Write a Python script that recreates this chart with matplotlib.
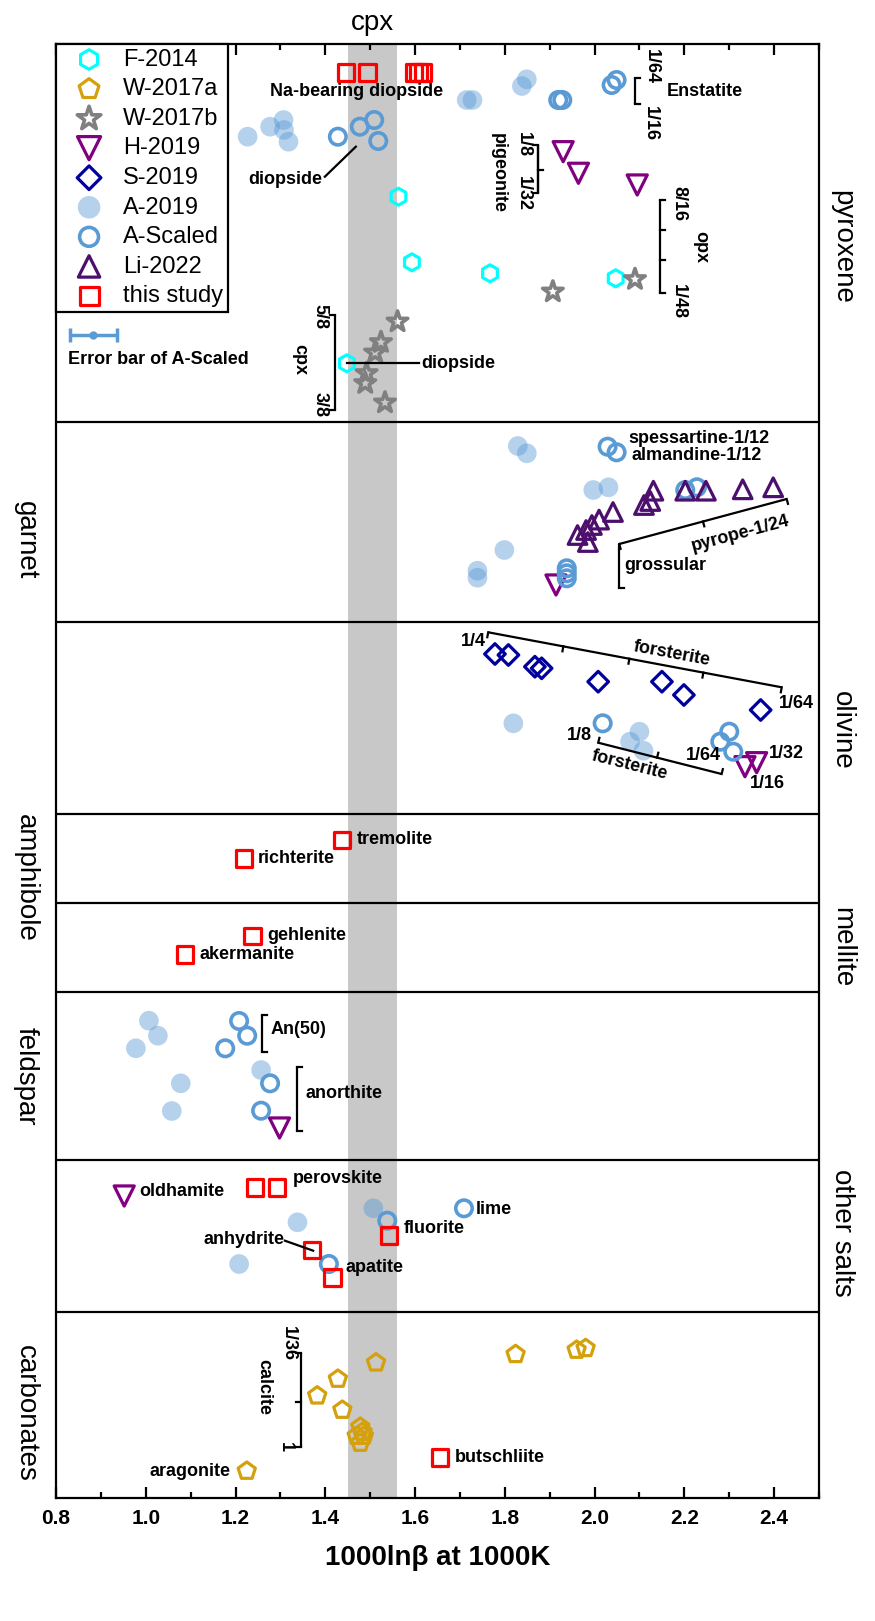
import matplotlib
matplotlib.use('Agg')
import matplotlib.pyplot as plt
import numpy as np
from matplotlib.ticker import MultipleLocator

plt.rcParams['font.family'] = ['Liberation Sans', 'DejaVu Sans']

# ---------------- data (x = 1000lnβ at 1000K, y = vertical slot, increasing downward) -------------
F2014_x = [1.563, 1.593, 1.767, 2.047, 1.448]
F2014_y = [152.7, 218.3, 229.3, 234.3, 319.3]

W2017a_x = [1.513, 1.428, 1.382, 1.438, 1.824, 1.960, 1.980, 1.225, 1.478, 1.470, 1.486, 1.478, 1.483]
W2017a_y = [1318.7, 1335.0, 1351.7, 1366.0, 1310.3, 1306.0, 1304.3, 1427.0, 1383.0, 1392.0, 1392.0, 1399.0, 1388.0]

W2017b_x = [1.907, 2.090, 1.561, 1.524, 1.511, 1.492, 1.489, 1.533]
W2017b_y = [247.7, 235.3, 277.7, 298.3, 308.7, 329.3, 339.3, 358.7]

H2019_x = [1.930, 1.964, 2.095, 1.914, 2.361, 2.335, 1.298, 0.952]
H2019_y = [107.7, 129.3, 141.0, 541.0, 718.7, 722.7, 1084.0, 1152.0]

S2019_x = [1.778, 1.808, 1.867, 1.882, 2.008, 2.150, 2.199, 2.370]
S2019_y = [610.0, 611.0, 622.7, 624.3, 637.7, 637.7, 651.0, 666.0]

A2019_x = [1.227, 1.277, 1.307, 1.308, 1.318, 1.715, 1.728, 1.849, 1.838,
           1.829, 1.849, 1.997, 2.031, 1.799, 1.739, 1.739,
           1.819, 2.079, 2.100, 2.109,
           1.007, 1.027, 0.978, 1.078, 1.058, 1.257,
           1.507, 1.338, 1.208]
A2019_y = [92.7, 82.7, 76.0, 86.0, 97.7, 56.0, 56.0, 35.3, 42.0,
           402.0, 409.3, 446.0, 443.3, 506.0, 526.7, 533.7,
           679.3, 697.7, 687.7, 706.7,
           976.7, 991.7, 1004.3, 1039.3, 1067.0, 1026.0,
           1164.3, 1178.3, 1220.0]

AScaled_x = [1.428, 1.477, 1.509, 1.518, 1.919, 1.928, 2.038, 2.049,
             2.029, 2.049, 1.938, 1.938, 1.938, 2.202, 2.228,
             2.018, 2.300, 2.280, 2.309,
             1.208, 1.226, 1.177, 1.277, 1.257,
             1.538, 1.408, 1.709]
AScaled_y = [92.7, 82.7, 76.0, 97.0, 56.0, 56.0, 41.0, 36.0,
             402.7, 408.3, 524.3, 529.3, 534.3, 446.0, 443.3,
             679.3, 687.7, 697.7, 707.7,
             977.0, 991.7, 1004.3, 1039.3, 1066.7,
             1176.7, 1220.0, 1164.3]

Li2022_x = [1.962, 1.981, 1.994, 2.010, 2.041, 1.985, 2.110, 2.124, 2.131, 2.202, 2.248, 2.330, 2.398]
Li2022_y = [491.0, 486.0, 481.0, 475.6, 468.0, 498.0, 461.0, 457.0, 446.7, 446.7, 446.7, 445.3, 443.3]

study_x = [1.446, 1.494, 1.598, 1.608, 1.618, 1.437, 1.219, 1.238, 1.087,
           1.243, 1.292, 1.542, 1.371, 1.416, 1.656]
study_y = [28.3, 28.3, 28.3, 28.3, 28.3, 796.0, 814.7, 892.0, 910.3,
           1143.7, 1143.7, 1191.7, 1206.0, 1233.3, 1413.7]

# error bar example
err_x, err_y, err_dx = 0.883, 291.0, 0.052

# panel dividers and group names
dividers = [378, 578, 770, 859, 948, 1116, 1268]
groups = ['pyroxene', 'garnet', 'olivine', 'amphibole', 'mellite', 'feldspar', 'other salts', 'carbonates']
group_side = ['right', 'left', 'right', 'left', 'right', 'left', 'right', 'left']
group_y = [203, 496, 686, 834, 903, 1032, 1189, 1369]

cpx_band = (1.45, 1.56)

# annotation texts: (text, x, y, ha, rotation)
labels = [
    ("Na-bearing diopside", 1.277, 47.7, 'left', 0),
    ("diopside", 1.310, 135, 'center', 0),
    ("Enstatite", 2.161, 47.7, 'left', 0),
    ("1/64", 2.127, 22.7, 'center', -90),
    ("1/16", 2.124, 79, 'center', -90),
    ("1/8", 1.841, 101, 'center', -90),
    ("1/32", 1.841, 149.3, 'center', -90),
    ("pigeonite", 1.786, 129.3, 'center', -90),
    ("8/16", 2.187, 159.3, 'center', -90),
    ("1/48", 2.187, 257.7, 'center', -90),
    ("opx", 2.237, 202.7, 'center', -90),
    ("5/8", 1.388, 273, 'center', -90),
    ("cpx", 1.344, 316, 'center', -90),
    ("3/8", 1.388, 361, 'center', -90),
    ("diopside", 1.613, 319.3, 'left', 0),
    ("Error bar of A-Scaled", 0.827, 316, 'left', 0),
    ("spessartine-1/12", 2.075, 394.3, 'left', 0),
    ("almandine-1/12", 2.083, 411, 'left', 0),
    ("pyrope-1/24", 2.324, 489.3, 'center', 15),
    ("grossular", 2.066, 521, 'left', 0),
    ("1/4", 1.730, 597.7, 'center', 0),
    ("forsterite", 2.173, 609.3, 'center', -10.6),
    ("1/64", 2.449, 660, 'center', 0),
    ("1/8", 1.966, 691, 'center', 0),
    ("forsterite", 2.079, 721, 'center', -14.2),
    ("1/64", 2.242, 712, 'center', 0),
    ("1/32", 2.428, 710, 'center', 0),
    ("1/16", 2.384, 739.3, 'center', 0),
    ("tremolite", 1.469, 796, 'left', 0),
    ("richterite", 1.250, 814.7, 'left', 0),
    ("gehlenite", 1.270, 892, 'left', 0),
    ("akermanite", 1.119, 910.3, 'left', 0),
    ("An(50)", 1.278, 986, 'left', 0),
    ("anorthite", 1.356, 1049.3, 'left', 0),
    ("oldhamite", 0.985, 1148, 'left', 0),
    ("perovskite", 1.327, 1134.3, 'left', 0),
    ("lime", 1.735, 1165, 'left', 0),
    ("fluorite", 1.575, 1184.3, 'left', 0),
    ("anhydrite", 1.219, 1195, 'center', 0),
    ("apatite", 1.446, 1223.3, 'left', 0),
    ("1/36", 1.317, 1299.3, 'center', -90),
    ("calcite", 1.263, 1342.7, 'center', -90),
    ("1", 1.310, 1403, 'center', -90),
    ("aragonite", 1.188, 1427, 'right', 0),
    ("butschliite", 1.689, 1413.7, 'left', 0),
]

# brackets: (x0, y0, x1, y1, tick fractions, tick side (+1 / -1 normal))
brackets = [
    (2.090, 34, 2.090, 60, [0, 1], -1),
    (1.875, 101, 1.875, 149.3, [0, 1], 1),
    (1.875, 101, 1.875, 149.3, [0.52], -1),
    (2.146, 156, 2.146, 249.3, [0, 0.32, 0.64, 1], -1),
    (1.422, 271, 1.422, 366, [0, 1], 1),
    (2.055, 500, 2.428, 455, [0, 0.5, 1], 1),
    (2.055, 500, 2.055, 544.3, [1], -1),
    (1.763, 588.3, 2.417, 643.3, [0, 0.256, 0.481, 0.733, 1], 1),
    (2.008, 698.7, 2.283, 730, [0, 0.477, 1], -1),
    (1.258, 971, 1.258, 1007.7, [0, 1], -1),
    (1.336, 1023.3, 1.336, 1087, [0, 1], -1),
    (1.345, 1309.3, 1.345, 1403.3, [0, 0.515, 1], 1),
]
connectors = [
    (1.399, 132.7, 1.468, 102.7),
    (1.448, 319.3, 1.608, 319.3),
    (1.310, 1196.7, 1.373, 1206.7),
]

# ---------------- figure ----------------
W, H = 875, 1621
fig = plt.figure(figsize=(W / 100, H / 100), dpi=100)
L, R, T, B = 56, 819, 44, 1498
ax = fig.add_axes([L / W, 1 - B / H, (R - L) / W, (B - T) / H])
ax.set_xlim(0.8, 2.5)
ax.set_ylim(1454, 0)

ax.axvspan(*cpx_band, color='#c8c8c8', zorder=0, lw=0)
for d in dividers:
    ax.axhline(d, color='black', lw=1.6, zorder=1)

lw = 2.3
ax.scatter(F2014_x, F2014_y, marker='h', s=150, facecolors='none', edgecolors='#00ffff', linewidths=lw, zorder=4, label='F-2014')
ax.scatter(W2017a_x, W2017a_y, marker='p', s=170, facecolors='none', edgecolors='#d4a00c', linewidths=lw, zorder=4, label='W-2017a')
ax.scatter(W2017b_x, W2017b_y, marker='*', s=240, facecolors='none', edgecolors='#808080', linewidths=2.6, zorder=4, label='W-2017b')
ax.scatter(H2019_x, H2019_y, marker='v', s=210, facecolors='none', edgecolors='#800080', linewidths=lw, zorder=4, label='H-2019')
ax.scatter(S2019_x, S2019_y, marker='D', s=110, facecolors='none', edgecolors='#00009c', linewidths=lw, zorder=4, label='S-2019')
ax.scatter(A2019_x, A2019_y, marker='o', s=200, facecolors='#5b9bd5', edgecolors='none', alpha=0.45, zorder=3, label='A-2019')
ax.scatter(AScaled_x, AScaled_y, marker='o', s=140, facecolors='none', edgecolors='#5b9bd5', linewidths=2.6, zorder=4, label='A-Scaled')
ax.scatter(Li2022_x, Li2022_y, marker='^', s=180, facecolors='none', edgecolors='#4d0f6e', linewidths=lw, zorder=4, label='Li-2022')
ax.scatter(study_x, study_y, marker='s', s=140, facecolors='none', edgecolors='#ff0000', linewidths=lw, zorder=5, label='this study')

ax.errorbar(err_x, err_y, xerr=err_dx, fmt='o', ms=5, color='#5b9bd5', elinewidth=2.5,
            capsize=5, capthick=2.5, zorder=4)

tfont = dict(fontsize=13, fontweight='bold', color='black')
for txt, x, y, ha, rot in labels:
    ax.text(x, y, txt, ha=ha, va='center', rotation=rot,
            rotation_mode='anchor' if rot not in (0, -90) else 'default', zorder=6, **tfont)

fig.canvas.draw()
toD = ax.transData
inv = toD.inverted()
tick_px = 5
for x0, y0, x1, y1, fr, side in brackets:
    ax.plot([x0, x1], [y0, y1], color='black', lw=1.6, zorder=5, solid_capstyle='butt')
    p0 = toD.transform((x0, y0)); p1 = toD.transform((x1, y1))
    d = (p1 - p0) / np.hypot(*(p1 - p0))
    n = np.array([d[1], -d[0]]) * side   # display-space normal
    for f in fr:
        p = p0 + f * (p1 - p0)
        q = p + n * tick_px
        a = inv.transform(p); b = inv.transform(q)
        ax.plot([a[0], b[0]], [a[1], b[1]], color='black', lw=1.6, zorder=5)
for x0, y0, x1, y1 in connectors:
    ax.plot([x0, x1], [y0, y1], color='black', lw=1.6, zorder=5)

# group labels
for name, side, gy in zip(groups, group_side, group_y):
    xa = 1.03 if side == 'right' else -0.04
    ax.text(xa, gy, name, transform=ax.get_yaxis_transform(), rotation=-90,
            ha='center', va='center', fontsize=20)
ax.text(np.mean(cpx_band), -8, 'cpx', ha='center', va='bottom', fontsize=20)

# axes styling
for s in ax.spines.values():
    s.set_linewidth(1.6)
ax.xaxis.set_major_locator(MultipleLocator(0.2))
ax.xaxis.set_minor_locator(MultipleLocator(0.1))
ax.tick_params(axis='x', which='both', direction='in', top=True, bottom=True, width=1.6)
ax.tick_params(axis='x', which='major', length=8, labelsize=15, pad=8)
ax.tick_params(axis='x', which='minor', length=4)
ax.set_yticks([])
for lab in ax.get_xticklabels():
    lab.set_fontweight('bold')
ax.set_xlabel('1000lnβ at 1000K', fontsize=20, fontweight='bold', labelpad=12)

leg = ax.legend(loc='upper left', bbox_to_anchor=(0, 1), borderaxespad=0, fontsize=17,
                frameon=True, fancybox=False, framealpha=1, edgecolor='black',
                borderpad=0.2, labelspacing=0.32, handlelength=2.4, handletextpad=0.25,
                scatterpoints=1, markerscale=1.15)
leg.get_frame().set_linewidth(1.6)
leg.set_zorder(10)

fig.savefig('out.png', dpi=100)
